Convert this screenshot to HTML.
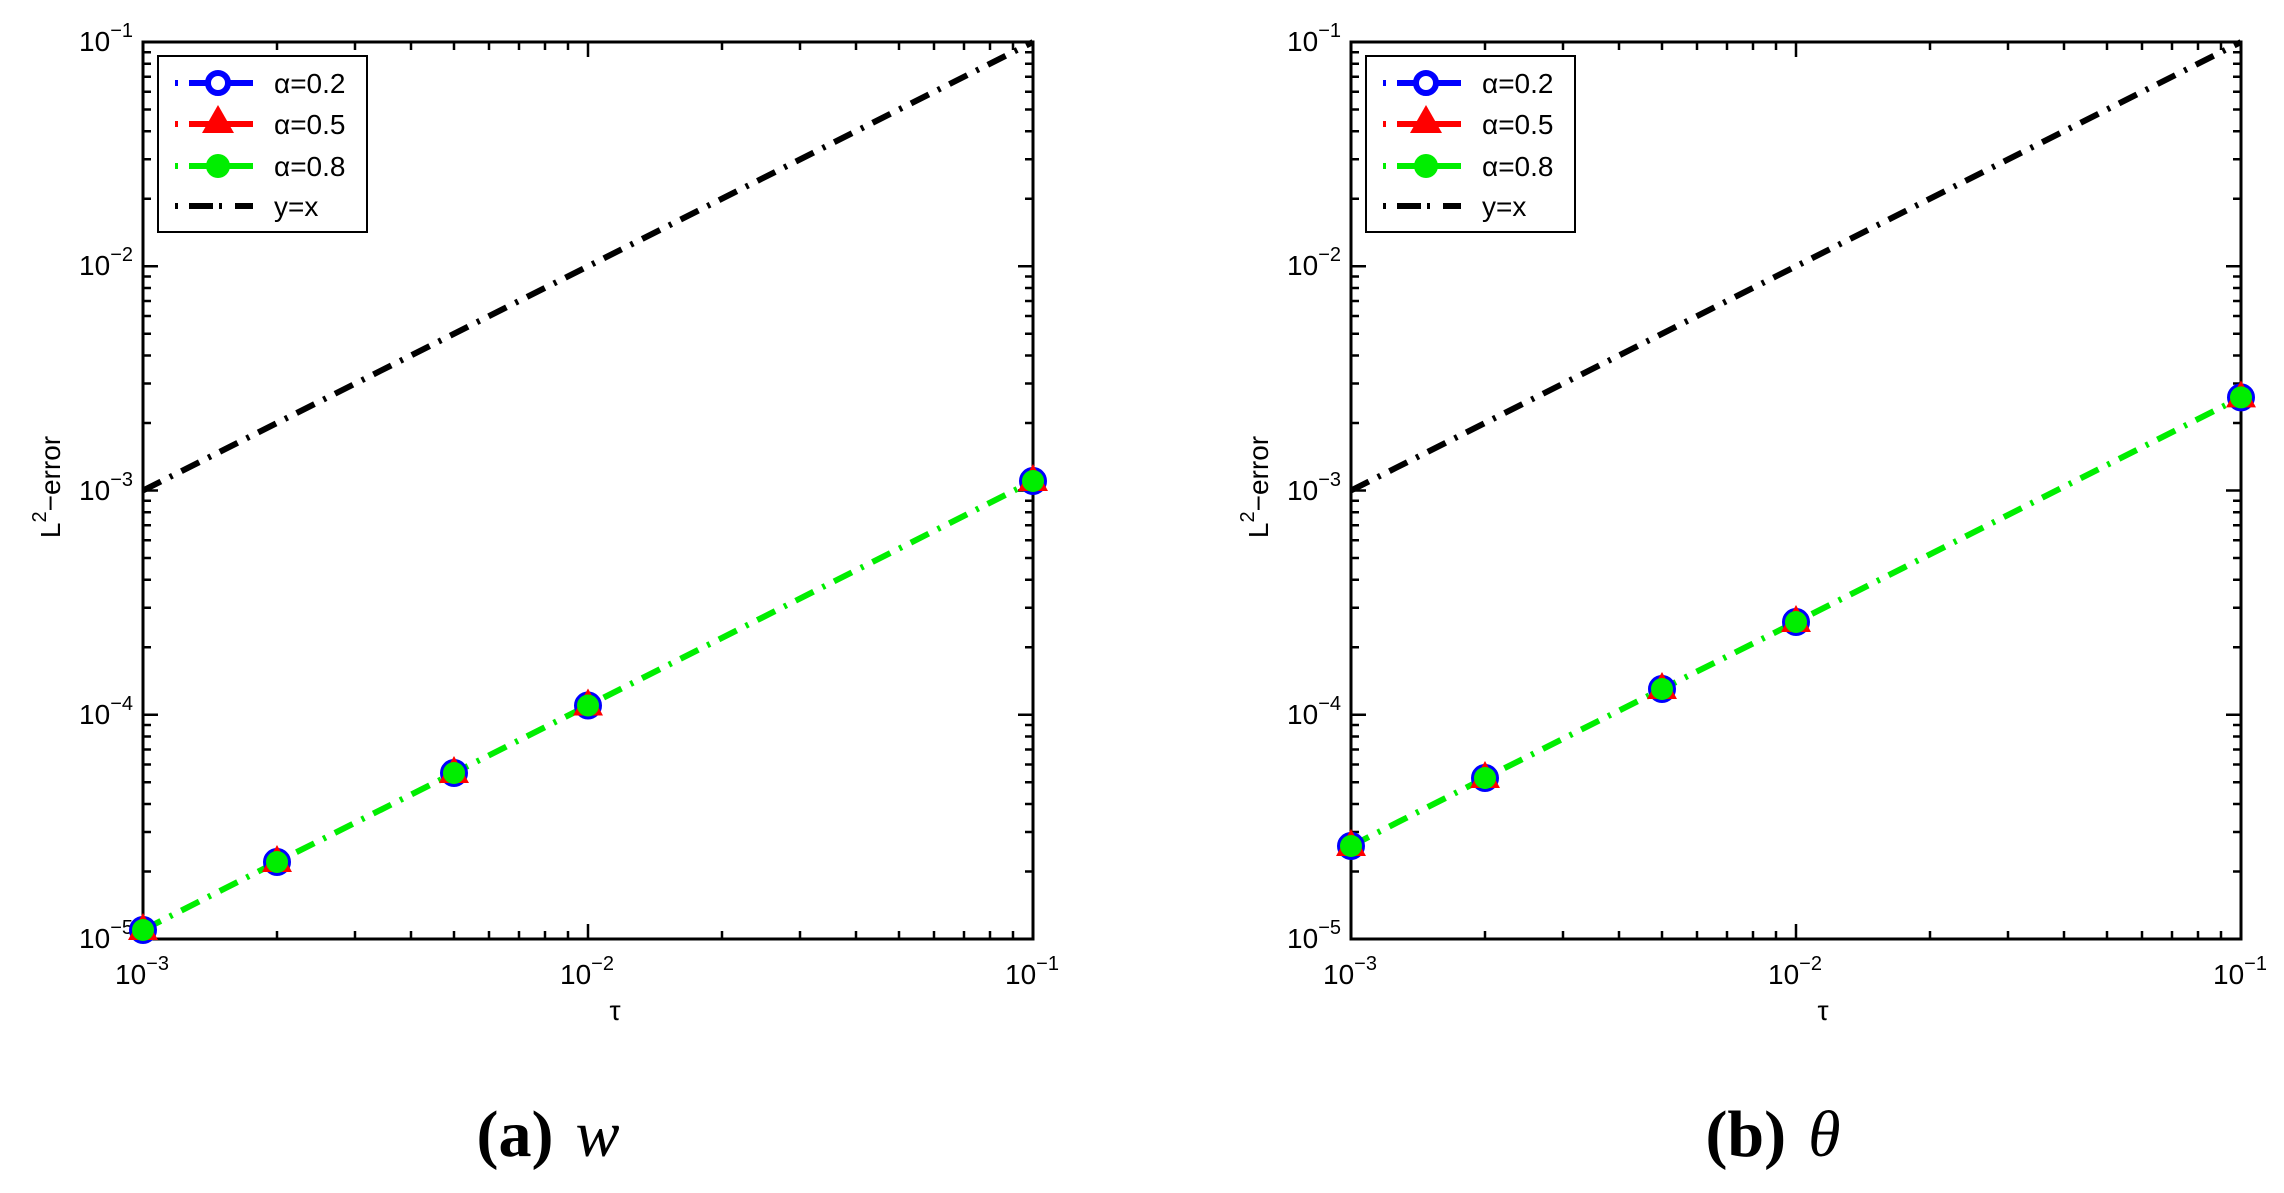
<!DOCTYPE html>
<html><head><meta charset="utf-8"><style>
html,body{margin:0;padding:0;background:#fff}
svg{display:block}
text{font-family:"Liberation Sans",sans-serif;fill:#000}
.cap{font-family:"Liberation Serif",serif}
</style></head><body>
<svg width="2284" height="1193" viewBox="0 0 2284 1193" xmlns="http://www.w3.org/2000/svg">
<defs>
<g id="axes">
  <rect x="143" y="42" width="890" height="897" fill="none" stroke="#000" stroke-width="3"/>
  <path stroke="#000" stroke-width="2.5" fill="none" d="
  M588 939v-15 M588 42v15
  M277 939v-8M355 939v-8M411 939v-8M454 939v-8M489 939v-8M519 939v-8M545 939v-8M568 939v-8
  M722 939v-8M800 939v-8M856 939v-8M899 939v-8M934 939v-8M964 939v-8M990 939v-8M1013 939v-8
  M277 42v8M355 42v8M411 42v8M454 42v8M489 42v8M519 42v8M545 42v8M568 42v8
  M722 42v8M800 42v8M856 42v8M899 42v8M934 42v8M964 42v8M990 42v8M1013 42v8
  M143 714.75h15M143 490.5h15M143 266.25h15 M1033 714.75h-15M1033 490.5h-15M1033 266.25h-15
  M143 871.5h8M143 832h8M143 804h8M143 782.3h8M143 764.5h8M143 749.5h8M143 736.5h8M143 725h8
  M143 647.25h8M143 607.75h8M143 579.75h8M143 558h8M143 540.25h8M143 525.25h8M143 512.25h8M143 500.75h8
  M143 423h8M143 383.5h8M143 355.5h8M143 333.8h8M143 316h8M143 301h8M143 288h8M143 276.5h8
  M143 198.75h8M143 159.25h8M143 131.25h8M143 109.5h8M143 91.75h8M143 76.75h8M143 63.75h8M143 52.25h8
  M1033 871.5h-8M1033 832h-8M1033 804h-8M1033 782.3h-8M1033 764.5h-8M1033 749.5h-8M1033 736.5h-8M1033 725h-8
  M1033 647.25h-8M1033 607.75h-8M1033 579.75h-8M1033 558h-8M1033 540.25h-8M1033 525.25h-8M1033 512.25h-8M1033 500.75h-8
  M1033 423h-8M1033 383.5h-8M1033 355.5h-8M1033 333.8h-8M1033 316h-8M1033 301h-8M1033 288h-8M1033 276.5h-8
  M1033 198.75h-8M1033 159.25h-8M1033 131.25h-8M1033 109.5h-8M1033 91.75h-8M1033 76.75h-8M1033 63.75h-8M1033 52.25h-8"/>
  <g font-size="28" text-anchor="end">
    <text x="133" y="948">10<tspan font-size="20" dy="-14">−5</tspan></text>
    <text x="133" y="724">10<tspan font-size="20" dy="-14">−4</tspan></text>
    <text x="133" y="500">10<tspan font-size="20" dy="-14">−3</tspan></text>
    <text x="133" y="275">10<tspan font-size="20" dy="-14">−2</tspan></text>
    <text x="133" y="51">10<tspan font-size="20" dy="-14">−1</tspan></text>
  </g>
  <g font-size="28">
    <text x="115" y="984">10<tspan font-size="20" dy="-14">−3</tspan></text>
    <text x="560" y="984">10<tspan font-size="20" dy="-14">−2</tspan></text>
    <text x="1005" y="984">10<tspan font-size="20" dy="-14">−1</tspan></text>
  </g>
  <text x="615" y="1020" font-size="28" text-anchor="middle">τ</text>
  <text transform="translate(60,487) rotate(-90)" font-size="28" text-anchor="middle">L<tspan font-size="20" dy="-14">2</tspan><tspan dy="14">−error</tspan></text>
  <line x1="143" y1="490.5" x2="1033" y2="42" stroke="#000" stroke-width="6" stroke-dasharray="20 10 3 10"/>
  <rect x="158" y="56" width="209" height="176" fill="#fff" stroke="#000" stroke-width="2"/>
  <g stroke-width="6">
    <path d="M175 83h3M189 83h64" stroke="#0000ff"/>
    <circle cx="218" cy="83" r="10" fill="#fff" stroke="#0000ff" stroke-width="6"/>
    <path d="M175 124h3M189 124h64" stroke="#ff0000"/>
    <polygon points="218,105 234,133 202,133" fill="#ff0000" stroke="none"/>
    <path d="M175 166h3M189 166h64" stroke="#00ee00"/>
    <circle cx="218" cy="166" r="12" fill="#00ee00" stroke="none"/>
    <path d="M175 206h3M189 206h24M219 206h3M235 206h18" stroke="#000"/>
  </g>
  <g font-size="28">
    <text x="274" y="93">α=0.2</text>
    <text x="274" y="134">α=0.5</text>
    <text x="274" y="176">α=0.8</text>
    <text x="274" y="216">y=x</text>
  </g>
</g>
<g id="mk">
  <circle r="12" fill="none" stroke="#0000ff" stroke-width="4"/>
  <polygon points="0,-17 15,10 -15,10" fill="#ff0000"/>
  <circle r="11" fill="#00ee00"/>
</g>
</defs>

<use href="#axes"/>
<polyline points="143,930 277,862 454,773 588,705.5 1033,481" fill="none" stroke="#00ee00" stroke-width="6" stroke-dasharray="20 10 3 10"/>
<use href="#mk" x="143" y="930"/><use href="#mk" x="277" y="862"/><use href="#mk" x="454" y="773"/><use href="#mk" x="588" y="705.5"/><use href="#mk" x="1033" y="481"/>

<g transform="translate(1208,0)">
<use href="#axes"/>
<polyline points="143,846 277,778 454,689 588,622 1033,397.4" fill="none" stroke="#00ee00" stroke-width="6" stroke-dasharray="20 10 3 10"/>
<use href="#mk" x="143" y="846"/><use href="#mk" x="277" y="778"/><use href="#mk" x="454" y="689"/><use href="#mk" x="588" y="622"/><use href="#mk" x="1033" y="397.4"/>
</g>

<text class="cap" x="548" y="1156" font-size="66" text-anchor="middle"><tspan font-weight="bold">(a)</tspan><tspan font-style="italic" dx="22">w</tspan></text>
<text class="cap" x="1773" y="1156" font-size="66" text-anchor="middle"><tspan font-weight="bold">(b)</tspan><tspan font-style="italic" dx="22">θ</tspan></text>
</svg>
</body></html>
